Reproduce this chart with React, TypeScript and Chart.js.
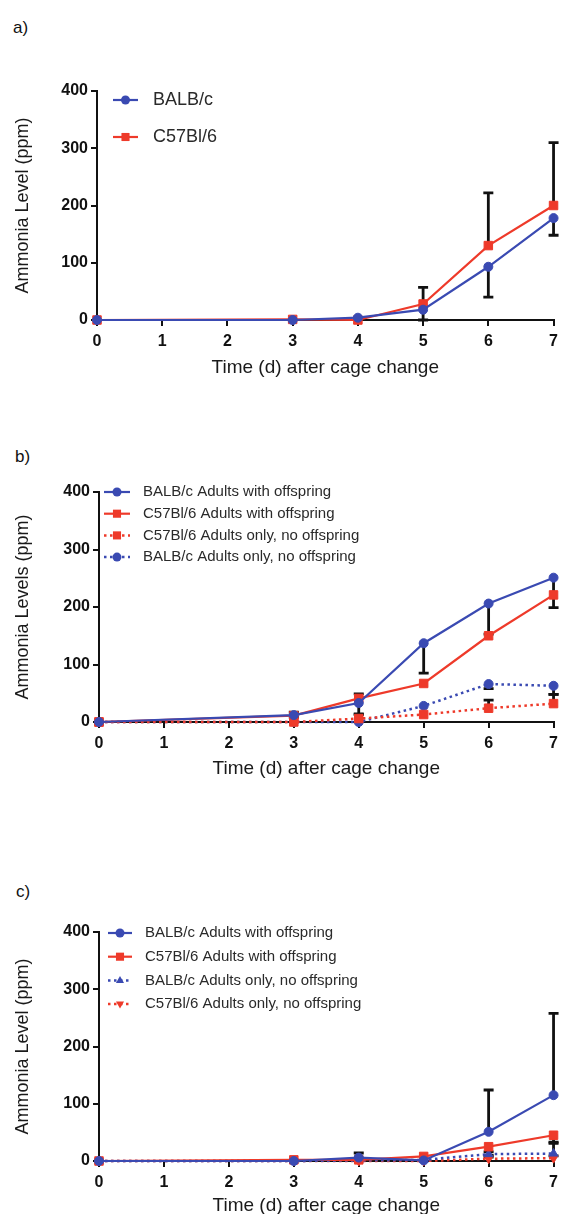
import React, { useEffect, useRef } from 'react';
import { Chart, registerables } from 'chart.js';

Chart.register(...registerables);

const BLUE = '#3a4ab2';
const RED = '#ee3a2a';
const FONT = "Arial, 'Liberation Sans', Helvetica, sans-serif";

// shared axes
const days = [0, 3, 4, 5, 6, 7];
const xTicks = [0, 1, 2, 3, 4, 5, 6, 7];
const yTicks = [0, 100, 200, 300, 400];
const xTitle = 'Time (d) after cage change';

// panel a
const aLabels = ['BALB/c', 'C57Bl/6'];
const aBalb = [0, 0, 4, 18, 93, 178];
const aC57 = [0, 1, 0, 28, 130, 200];
const aBalbErrUp = [0, 0, 0, 0, 0, 0];
const aBalbErrDown = [0, 0, 0, 18, 53, 30];
const aC57ErrUp = [0, 0, 0, 29, 92, 110];
const aC57ErrDown = [0, 0, 0, 0, 0, 0];

// panel b
const bLabels = [
  'BALB/c Adults with offspring',
  'C57Bl/6 Adults with offspring',
  'C57Bl/6 Adults only, no offspring',
  'BALB/c Adults only, no offspring',
];
const bBalbOff = [0, 12, 33, 137, 206, 251];
const bC57Off = [0, 11, 41, 67, 150, 221];
const bC57Only = [0, 0, 6, 13, 24, 32];
const bBalbOnly = [0, 0, 0, 28, 66, 63];
const bBalbOffErrDown = [0, 4, 20, 52, 53, 52];
const bC57OffErrUp = [0, 6, 8, 0, 0, 0];
const bC57OnlyErrUp = [0, 0, 8, 0, 14, 16];
const bBalbOnlyErrDown = [0, 0, 0, 0, 8, 15];

// panel c
const cLabels = [
  'BALB/c Adults with offspring',
  'C57Bl/6 Adults with offspring',
  'BALB/c Adults only, no offspring',
  'C57Bl/6 Adults only, no offspring',
];
const cBalbOff = [0, 0, 6, 1, 51, 115];
const cC57Off = [0, 2, 2, 8, 25, 45];
const cBalbOnly = [0, 0, 1, 2, 12, 13];
const cC57Only = [0, 0, 0, 0, 4, 5];
const cBalbOffErrUp = [0, 0, 8, 0, 73, 143];
const cC57OffErrDown = [0, 0, 0, 0, 15, 14];
const cBalbOnlyErrUp = [0, 0, 0, 0, 4, 20];
const cC57OnlyErrUp = [0, 0, 0, 0, 3, 4];

const zeros = [0, 0, 0, 0, 0, 0];

type Series = {
  label: string;
  values: number[];
  color: string;
  style: string;
  dashed: boolean;
  up: number[];
  down: number[];
};

function drawMarker(ctx: CanvasRenderingContext2D, style: string, x: number, y: number, color: string, r: number) {
  ctx.save();
  ctx.fillStyle = color;
  ctx.beginPath();
  if (style === 'circle') {
    ctx.arc(x, y, r, 0, Math.PI * 2);
  } else if (style === 'rect') {
    const s = r * 0.9;
    ctx.rect(x - s, y - s, 2 * s, 2 * s);
  } else if (style === 'triangle') {
    ctx.moveTo(x, y - r);
    ctx.lineTo(x + r * 0.9, y + r * 0.6);
    ctx.lineTo(x - r * 0.9, y + r * 0.6);
    ctx.closePath();
  } else {
    ctx.moveTo(x, y + r);
    ctx.lineTo(x + r * 0.9, y - r * 0.6);
    ctx.lineTo(x - r * 0.9, y - r * 0.6);
    ctx.closePath();
  }
  ctx.fill();
  ctx.restore();
}

const errorBarPlugin = {
  id: 'errbars',
  beforeDatasetsDraw(chart: any) {
    const ctx = chart.ctx as CanvasRenderingContext2D;
    const ys = chart.scales.y;
    ctx.save();
    ctx.strokeStyle = '#111';
    ctx.lineWidth = 2.8;
    chart.data.datasets.forEach((ds: any, i: number) => {
      const meta = chart.getDatasetMeta(i);
      ds.data.forEach((p: any, j: number) => {
        const pt = meta.data[j];
        const pairs: [number, number][] = [
          [ds.errUp ? ds.errUp[j] : 0, 1],
          [ds.errDown ? ds.errDown[j] : 0, -1],
        ];
        pairs.forEach(([e, s]) => {
          if (!e || e <= 0) return;
          const py = ys.getPixelForValue(p.y + s * e);
          ctx.beginPath();
          ctx.moveTo(pt.x, pt.y);
          ctx.lineTo(pt.x, py);
          ctx.moveTo(pt.x - 5, py);
          ctx.lineTo(pt.x + 5, py);
          ctx.stroke();
        });
      });
    });
    ctx.restore();
  },
};

type LegendCfg = { x1: number; x2: number; textX: number; y0: number; dy: number; size: number; mr: number };

function legendPlugin(series: Series[], cfg: LegendCfg) {
  return {
    id: 'customLegend',
    afterDraw(chart: any) {
      const ctx = chart.ctx as CanvasRenderingContext2D;
      series.forEach((s, i) => {
        const y = cfg.y0 + i * cfg.dy;
        ctx.save();
        ctx.strokeStyle = s.color;
        ctx.lineWidth = s.dashed ? 2.5 : 2.2;
        ctx.setLineDash(s.dashed ? [2.5, 3.5] : []);
        ctx.beginPath();
        ctx.moveTo(cfg.x1, y);
        ctx.lineTo(cfg.x2, y);
        ctx.stroke();
        ctx.setLineDash([]);
        drawMarker(ctx, s.style, (cfg.x1 + cfg.x2) / 2, y, s.color, cfg.mr);
        ctx.fillStyle = '#2a2a2a';
        ctx.font = `${cfg.size}px ${FONT}`;
        ctx.textBaseline = 'middle';
        ctx.textAlign = 'left';
        ctx.fillText(s.label, cfg.textX, y);
        ctx.restore();
      });
    },
  };
}

type PanelCfg = {
  series: Series[];
  yTitle: string;
  top: number;
  right: number;
  bottom: number;
  yW: number;
  xH: number;
  height: number;
  legend: LegendCfg;
};

function makeConfig(p: PanelCfg): any {
  return {
    type: 'line',
    data: {
      datasets: p.series.map((s) => ({
        label: s.label,
        data: days.map((d, j) => ({ x: d, y: s.values[j] })),
        borderColor: s.color,
        backgroundColor: s.color,
        borderWidth: s.dashed ? 2.5 : 2.2,
        borderDash: s.dashed ? [2.5, 3.5] : [],
        pointStyle: s.style === 'triangleDown' ? 'triangle' : s.style,
        pointRotation: s.style === 'triangleDown' ? 180 : 0,
        pointRadius: s.style === 'rect' ? 6 : s.style === 'circle' ? 4.5 : 5,
        pointBorderWidth: 1,
        pointBorderColor: s.color,
        pointBackgroundColor: s.color,
        tension: 0,
        clip: false,
        errUp: s.up,
        errDown: s.down,
      })),
    },
    options: {
      animation: false,
      responsive: false,
      events: [],
      layout: { autoPadding: false, padding: { left: 12, top: p.top, right: p.right, bottom: p.bottom } },
      plugins: { legend: { display: false }, tooltip: { enabled: false } },
      scales: {
        x: {
          type: 'linear',
          min: 0,
          max: 7,
          afterFit: (sc: any) => { sc.height = p.xH; },
          afterBuildTicks: (sc: any) => { sc.ticks = xTicks.map((v) => ({ value: v })); },
          grid: { display: true, drawOnChartArea: false, drawTicks: true, tickLength: 6, color: '#111', lineWidth: 2 },
          border: { display: true, color: '#111', width: 2 },
          ticks: { color: '#111', font: { family: FONT, size: 16, weight: 'bold' }, padding: 6, maxRotation: 0 },
          title: { display: true, text: xTitle, color: '#1a1a1a', font: { family: FONT, size: 19 }, padding: 0 },
        },
        y: {
          type: 'linear',
          min: 0,
          max: 400,
          afterFit: (sc: any) => { sc.width = p.yW; },
          afterBuildTicks: (sc: any) => { sc.ticks = yTicks.map((v) => ({ value: v })); },
          grid: { display: true, drawOnChartArea: false, drawTicks: true, tickLength: 6, color: '#111', lineWidth: 2 },
          border: { display: true, color: '#111', width: 2 },
          ticks: { color: '#111', font: { family: FONT, size: 16, weight: 'bold' }, padding: 3 },
          title: { display: true, text: p.yTitle, color: '#1a1a1a', font: { family: FONT, size: 18 }, padding: 0 },
        },
      },
    },
    plugins: [errorBarPlugin, legendPlugin(p.series, p.legend)],
  };
}

const panelA: PanelCfg = {
  series: [
    { label: aLabels[0], values: aBalb, color: BLUE, style: 'circle', dashed: false, up: aBalbErrUp, down: aBalbErrDown },
    { label: aLabels[1], values: aC57, color: RED, style: 'rect', dashed: false, up: aC57ErrUp, down: aC57ErrDown },
  ],
  yTitle: 'Ammonia Level (ppm)',
  top: 91,
  right: 9,
  bottom: 21,
  yW: 85,
  xH: 59,
  height: 400,
  legend: { x1: 113, x2: 138, textX: 153, y0: 100, dy: 37, size: 18, mr: 4.5 },
};

const panelB: PanelCfg = {
  series: [
    { label: bLabels[0], values: bBalbOff, color: BLUE, style: 'circle', dashed: false, up: zeros, down: bBalbOffErrDown },
    { label: bLabels[1], values: bC57Off, color: RED, style: 'rect', dashed: false, up: bC57OffErrUp, down: zeros },
    { label: bLabels[2], values: bC57Only, color: RED, style: 'rect', dashed: true, up: bC57OnlyErrUp, down: zeros },
    { label: bLabels[3], values: bBalbOnly, color: BLUE, style: 'circle', dashed: true, up: zeros, down: bBalbOnlyErrDown },
  ],
  yTitle: 'Ammonia Levels (ppm)',
  top: 52,
  right: 5,
  bottom: 0,
  yW: 87,
  xH: 58,
  height: 340,
  legend: { x1: 104, x2: 130, textX: 143, y0: 52, dy: 21.7, size: 15, mr: 4.5 },
};

const panelC: PanelCfg = {
  series: [
    { label: cLabels[0], values: cBalbOff, color: BLUE, style: 'circle', dashed: false, up: cBalbOffErrUp, down: zeros },
    { label: cLabels[1], values: cC57Off, color: RED, style: 'rect', dashed: false, up: zeros, down: cC57OffErrDown },
    { label: cLabels[2], values: cBalbOnly, color: BLUE, style: 'triangle', dashed: true, up: cBalbOnlyErrUp, down: zeros },
    { label: cLabels[3], values: cC57Only, color: RED, style: 'triangleDown', dashed: true, up: cC57OnlyErrUp, down: zeros },
  ],
  yTitle: 'Ammonia Level (ppm)',
  top: 52,
  right: 5,
  bottom: 3,
  yW: 87,
  xH: 56,
  height: 340,
  legend: { x1: 108, x2: 132, textX: 145, y0: 53, dy: 23.7, size: 15, mr: 4.5 },
};

function Panel({ cfg, top }: { cfg: PanelCfg; top: number }) {
  const ref = useRef<HTMLCanvasElement | null>(null);
  useEffect(() => {
    if (!ref.current) return;
    const chart = new Chart(ref.current, makeConfig(cfg));
    return () => chart.destroy();
  }, [cfg]);
  return (
    <canvas
      ref={ref}
      width={564}
      height={cfg.height}
      style={{ position: 'absolute', left: 0, top, width: 564, height: cfg.height }}
    />
  );
}

const labelStyle = (top: number, left: number): React.CSSProperties => ({
  position: 'absolute',
  left,
  top,
  fontFamily: FONT,
  fontSize: 17,
  lineHeight: '20px',
  color: '#111',
});

export default function App() {
  return (
    <div
      style={{
        position: 'absolute',
        left: 0,
        top: 0,
        width: 564,
        height: 1214,
        overflow: 'hidden',
        background: '#fff',
      }}
    >
      <div style={labelStyle(18, 13)}>a)</div>
      <Panel cfg={panelA} top={0} />
      <div style={labelStyle(447, 15)}>b)</div>
      <Panel cfg={panelB} top={440} />
      <div style={labelStyle(882, 16)}>c)</div>
      <Panel cfg={panelC} top={880} />
    </div>
  );
}
